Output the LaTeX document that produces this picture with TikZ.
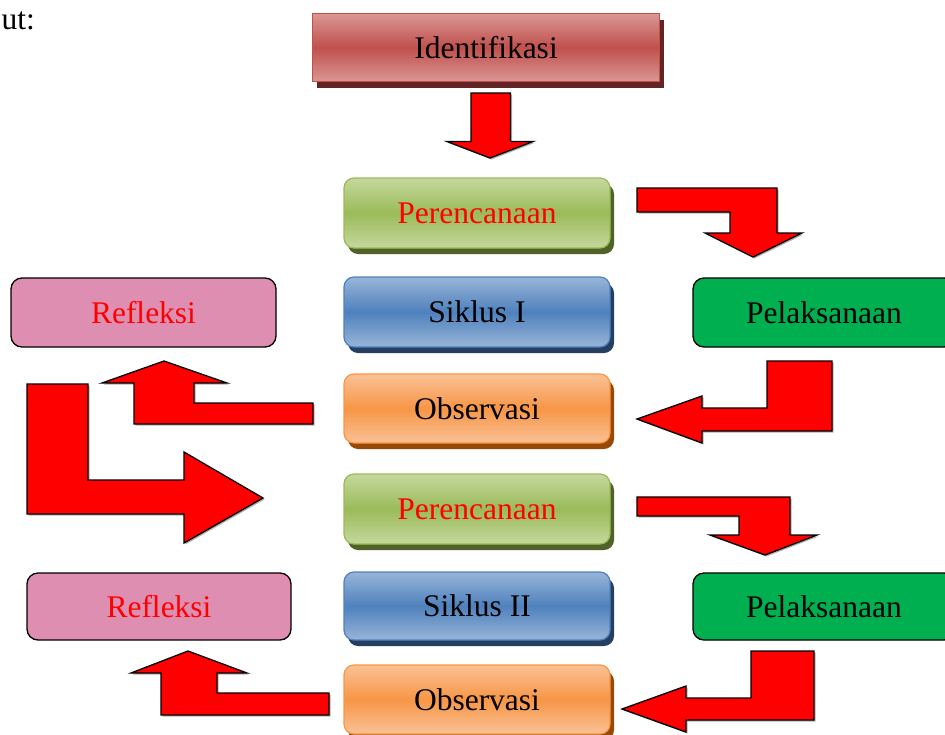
\documentclass[tikz,border=0pt]{standalone}
\usepackage{fontspec}
\setmainfont{Liberation Serif}
\usetikzlibrary{shadows}
\definecolor{rlight}{HTML}{DA9794}
\definecolor{rmid}{HTML}{C0504D}
\definecolor{rshadow}{HTML}{632523}
\definecolor{glight}{HTML}{C5D89E}
\definecolor{gmid}{HTML}{9BBB59}
\definecolor{gshadow}{HTML}{4F6228}
\definecolor{blight}{HTML}{98B5D8}
\definecolor{bmid}{HTML}{4F81BD}
\definecolor{bshadow}{HTML}{243F60}
\definecolor{olight}{HTML}{FAC196}
\definecolor{omid}{HTML}{F79646}
\definecolor{oshadow}{HTML}{984807}
\definecolor{pinkfill}{HTML}{DE8EB1}
\definecolor{pelgreen}{HTML}{00B050}
\tikzset{
  txt/.style={font=\fontsize{31.5}{36}\selectfont},
  box/.style={txt, inner sep=0pt, minimum width=266pt, minimum height=70pt, rounded corners=10pt, line width=1.2pt},
  glossy/.style n args={3}{box, draw=#2, top color=#1, bottom color=#1, middle color=#2,
     general shadow={fill=#3, shadow xshift=4pt, shadow yshift=-6pt}},
  greenbox/.style={glossy={glight}{gmid}{gshadow}},
  bluebox/.style={glossy={blight}{bmid}{bshadow}},
  orangebox/.style={glossy={olight}{omid}{oshadow}},
  flatbox/.style={txt, inner sep=0pt, minimum width=265pt, minimum height=69pt, rounded corners=11pt, draw=black, line width=1.3pt},
  blockarrow/.style={fill=red, draw=black, line width=1.3pt, line join=miter,
     general shadow={fill=black!30, shadow xshift=1.5pt, shadow yshift=-1.5pt}}
}
\begin{document}
\begin{tikzpicture}[x=1pt, y=-1pt]
\useasboundingbox (0,0) rectangle (945,734);

\node[txt, anchor=base west] (ut) at (-2,29) {ut:};

% top box
\node[txt, inner sep=0pt, minimum width=347pt, minimum height=68pt, draw=rmid, line width=1.2pt,
      top color=rlight, bottom color=rlight, middle color=rmid,
      general shadow={fill=rshadow, shadow xshift=4pt, shadow yshift=-6pt}] (ident) at (486,47.5) {Identifikasi};

% central column
\node[greenbox, text=red] (per1) at (477,213) {Perencanaan};
\node[bluebox] (sik1) at (477,312) {Siklus I};
\node[orangebox, minimum height=69pt] (obs1) at (477,408.5) {Observasi};
\node[greenbox, text=red] (per2) at (477,509) {Perencanaan};
\node[bluebox, minimum height=68pt] (sik2) at (477,606) {Siklus II};
\node[orangebox, minimum height=69pt] (obs2) at (477,699.5) {Observasi};

% side boxes
\node[flatbox, fill=pinkfill, text=red] (ref1) at (143.5,312.5) {Refleksi};
\node[flatbox, fill=pelgreen, minimum width=262pt, text width=254pt, align=center] (pel1) at (824,312.5) {Pelaksanaan};
\node[flatbox, fill=pinkfill, text=red, minimum width=264pt, minimum height=67pt] (ref2) at (159,606.5) {Refleksi};
\node[flatbox, fill=pelgreen, minimum width=262pt, minimum height=67pt, text width=254pt, align=center] (pel2) at (824,606.5) {Pelaksanaan};

% block arrows
% Identifikasi -> Perencanaan
\draw[blockarrow] (471,93) -- (510.5,93) -- (510.5,141.5) -- (533,141.5) -- (490,158) -- (447,141.5) -- (471,141.5) -- cycle;

% cycle I
\draw[blockarrow] (637,188) -- (777,188) -- (777,233) -- (802,233) -- (753,257) -- (705,233) -- (730,233) -- (730,212) -- (637,212) -- cycle;
\draw[blockarrow] (767,361) -- (832,361) -- (832,431) -- (702,431) -- (702,443) -- (637,419) -- (702,396) -- (702,408) -- (767,408) -- cycle;
\draw[blockarrow] (164,361) -- (227,383) -- (194,383) -- (194,403) -- (313,403) -- (313,424) -- (134,424) -- (134,383) -- (102,383) -- cycle;

% Refleksi -> Perencanaan II
\draw[blockarrow] (27,384) -- (88,384) -- (88,480) -- (184,480) -- (184,452) -- (263,498) -- (184,543) -- (184,514) -- (27,514) -- cycle;

% cycle II
\draw[blockarrow] (637,497) -- (790,497) -- (790,535) -- (817,535) -- (765,555) -- (710,535) -- (739,535) -- (739,516) -- (637,516) -- cycle;
\draw[blockarrow] (751,651) -- (814,651) -- (814,720) -- (686,720) -- (686,732) -- (622,709) -- (686,686) -- (686,698) -- (751,698) -- cycle;
\draw[blockarrow] (188,651) -- (247,673) -- (217,673) -- (217,693) -- (329,693) -- (329,715) -- (161,715) -- (161,673) -- (131,673) -- cycle;
\end{tikzpicture}
\end{document}
